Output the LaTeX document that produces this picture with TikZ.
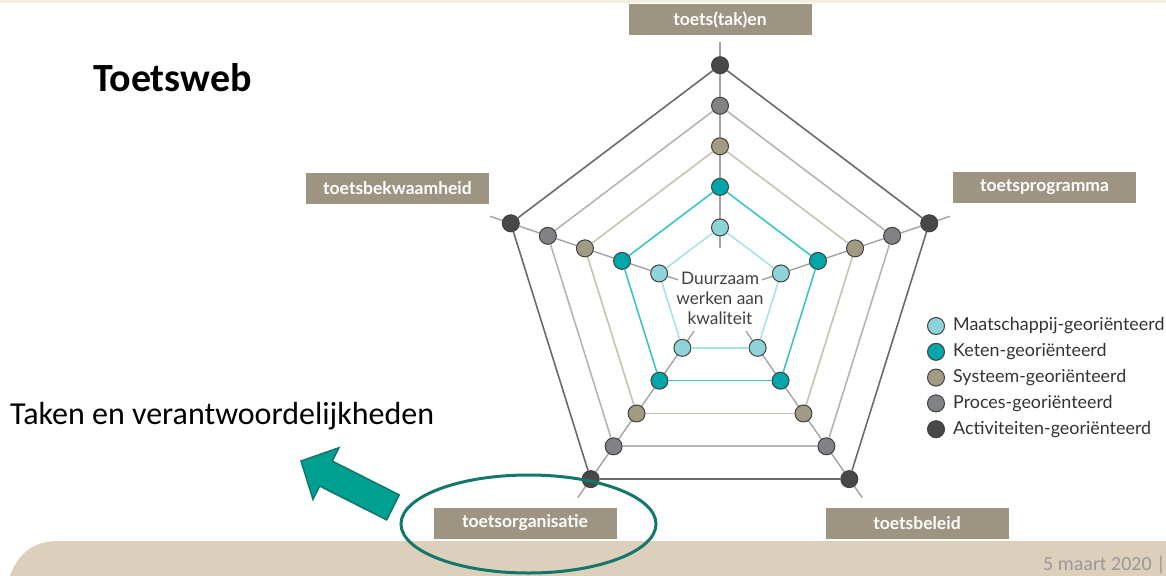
\documentclass[tikz,border=0pt]{standalone}
\usepackage{fontspec}
\setmainfont{Carlito}
\newfontfamily\diagfont{Lato}
\usetikzlibrary{positioning}

\definecolor{lvlAfill}{HTML}{8DD3D7}
\definecolor{lvlAline}{HTML}{A6E3E5}
\definecolor{lvlBfill}{HTML}{00A6AA}
\definecolor{lvlBline}{HTML}{3DC3C7}
\definecolor{lvlCfill}{HTML}{A39A84}
\definecolor{lvlCline}{HTML}{C9C2B2}
\definecolor{lvlDfill}{HTML}{808285}
\definecolor{lvlDline}{HTML}{B4B4B0}
\definecolor{lvlEfill}{HTML}{48484A}
\definecolor{lvlEline}{HTML}{6A6A66}
\definecolor{boxtan}{HTML}{9D9582}
\definecolor{bandbeige}{HTML}{DCD0BC}
\definecolor{stripbeige}{HTML}{F3EFE0}
\definecolor{arrowgreen}{HTML}{00A091}
\definecolor{ringgreen}{HTML}{13776B}
\definecolor{axisgrey}{HTML}{A3A3A3}

\tikzset{
  dot/.style={circle, draw=black!75, line width=1pt, minimum size=17pt, inner sep=0pt},
  labelbox/.style={fill=boxtan, text=white, minimum width=183pt, minimum height=31pt,
    inner sep=0pt, font=\diagfont\bfseries\fontsize{17.5}{20}\selectfont},
  legendtext/.style={anchor=west, inner sep=0pt, text=black!80,
    font=\diagfont\fontsize{17.9}{20}\selectfont},
  spoke/.style={axisgrey, line width=1.4pt},
  rim/.style={line width=1.6pt}
}

\begin{document}
\begin{tikzpicture}[x=1pt, y=-1pt]

  \useasboundingbox (0,0) rectangle (1166,575);

  % Achtergrond
  \fill[stripbeige] (0,0) rectangle (1166,3);
  \fill[bandbeige] (10,576) .. controls (18,553) and (34,541) .. (58,541)
    -- (1166,541) -- (1166,576) -- cycle;

  % Titel
  \node[anchor=base west, inner sep=0pt, font=\bfseries\fontsize{40}{48}\selectfont]
    (titel) at (93,92) {Toetsweb};

  % Assen van het web
  \foreach \i in {0,...,4}{
    \pgfmathsetmacro{\ang}{90+72*\i}
    \coordinate (as\i-in) at ({720+44*cos(\ang)},{294-1.04*44*sin(\ang)});
    \coordinate (as\i-uit) at ({720+242*cos(\ang)},{294-1.04*242*sin(\ang)});
    \draw[spoke] (as\i-in) -- (as\i-uit);
  }

  % Knooppunten per niveau
  \foreach \k/\lvl in {1/A,2/B,3/C,4/D,5/E}{
    \pgfmathsetmacro{\r}{64+39*(\k-1)}
    \foreach \i in {0,...,4}{
      \pgfmathsetmacro{\ang}{90+72*\i}
      \node[dot, fill=lvl\lvl fill] (n\k-\i)
        at ({720+\r*cos(\ang)},{294-1.04*\r*sin(\ang)}) {};
    }
  }

  % Vijfhoeken
  \foreach \k/\lvl in {1/A,2/B,3/C,4/D,5/E}{
    \foreach \i/\j in {0/1,1/2,2/3,3/4,4/0}{
      \draw[rim, lvl\lvl line] (n\k-\i) -- (n\k-\j);
    }
  }

  % Midden
  \node[align=center, inner sep=0pt, text=black!75,
    font=\diagfont\fontsize{17.3}{20}\selectfont] (midden) at (720,298)
    {Duurzaam\\werken aan\\kwaliteit};

  % Labels
  \node[labelbox] (takken) at (720,20) {toets(tak)en};
  \node[labelbox] (bekwaam) at (397.5,188.5) {toetsbekwaamheid};
  \node[labelbox] (programma) at (1044.5,187.5) {toetsprogramma};
  \node[labelbox] (organisatie) at (525,523) {toetsorganisatie};
  \node[labelbox] (beleid) at (917,523.5) {toetsbeleid};

  % Legenda
  \foreach \k/\lvl/\txt in {1/A/Maatschappij-georiënteerd,2/B/Keten-georiënteerd,
      3/C/Systeem-georiënteerd,4/D/Proces-georiënteerd,5/E/Activiteiten-georiënteerd}{
    \node[dot, fill=lvl\lvl fill] (lg\k) at (936,{326+25.8*(\k-1)}) {};
    \node[legendtext, right=8pt of lg\k] (lgt\k) {\txt};
  }

  % Taken en verantwoordelijkheden
  \node[anchor=base west, inner sep=0pt, font=\fontsize{32}{38}\selectfont]
    (taken) at (10,424) {Taken en verantwoordelijkheden};

  % Pijl en ring
  \draw[fill=arrowgreen, draw=ringgreen, line width=1.5pt, line join=miter]
    (301,461) -- (339,447.7) -- (332.3,461.1) -- (399.3,494.9)
    -- (386.7,519.9) -- (319.7,486.1) -- (313,499.5) -- cycle;
  \draw[ringgreen, line width=3pt] (528.5,524) ellipse [x radius=127.5, y radius=49];

  % Datum
  \node[anchor=base west, inner sep=0pt, text=black!40,
    font=\fontsize{20}{24}\selectfont] (datum) at (1043,570) {5 maart 2020 |};

\end{tikzpicture}
\end{document}
